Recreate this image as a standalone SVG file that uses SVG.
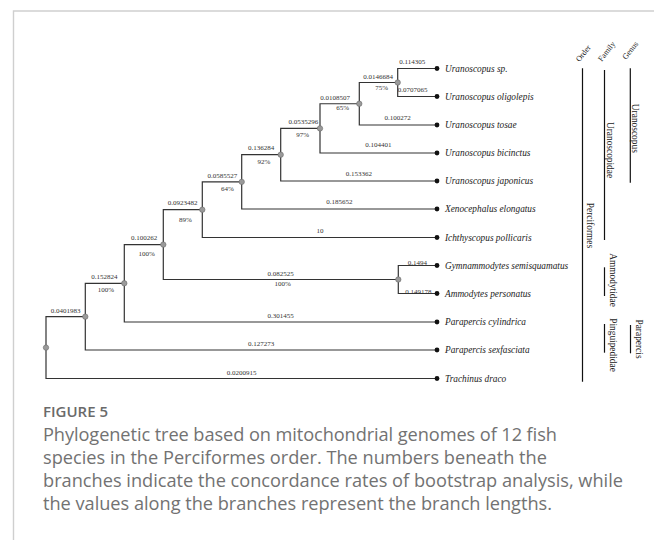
<svg xmlns="http://www.w3.org/2000/svg" width="654" height="540" viewBox="0 0 654 540">
<style>
.frame{fill:none;stroke:#cfcfcf;stroke-width:1.4}
.br{fill:none;stroke:#333;stroke-width:1.2}
.bar{stroke:#111;stroke-width:1.2}
.leaf{fill:#111}
.node{fill:#9a9a9a;stroke:#6a6a6a;stroke-width:0.6}
.bl{font-family:"Liberation Serif",serif;font-size:7px;fill:#333;text-anchor:middle}
.sp{font-family:"Liberation Serif",serif;font-size:9.3px;font-style:italic;fill:#222}
.tax{font-family:"Liberation Serif",serif;font-size:9.4px;fill:#222;text-anchor:middle}
.hd{font-family:"Liberation Serif",serif;font-size:8px;fill:#222;text-anchor:middle}
.cap{font-family:"Open Sans",sans-serif;font-size:18.2px;fill:#727272}
.fig{font-family:"Open Sans",sans-serif;font-size:15px;font-weight:600;fill:#6a6a6a}
</style>
<path class="frame" d="M13.5,540 V11 H654"/>
<g id="connectors">
<path class="br" d="M397.7 82.5 V68.5 H437"/>
<path class="br" d="M397.7 82.5 V96.5 H437"/>
<path class="br" d="M359.3 103.75 V82.5 H397.7"/>
<path class="br" d="M359.3 103.75 V125 H437"/>
<path class="br" d="M320 128.4 V103.75 H359.3"/>
<path class="br" d="M320 128.4 V153 H437"/>
<path class="br" d="M280.7 154.7 V128.4 H320"/>
<path class="br" d="M280.7 154.7 V181 H437"/>
<path class="br" d="M241.7 181.85 V154.7 H280.7"/>
<path class="br" d="M241.7 181.85 V209 H437"/>
<path class="br" d="M202.3 209.7 V181.85 H241.7"/>
<path class="br" d="M202.3 209.7 V237.5 H437"/>
<path class="br" d="M398.3 279.5 V265.5 H437"/>
<path class="br" d="M398.3 279.5 V293.5 H437"/>
<path class="br" d="M163.3 244.6 V209.7 H202.3"/>
<path class="br" d="M163.3 244.6 V279.5 H398.3"/>
<path class="br" d="M124.3 283.3 V244.6 H163.3"/>
<path class="br" d="M124.3 283.3 V322 H437"/>
<path class="br" d="M85.3 316.65 V283.3 H124.3"/>
<path class="br" d="M85.3 316.65 V350 H437"/>
<path class="br" d="M46 347.6 V316.65 H85.3"/>
<path class="br" d="M46 347.6 V378.5 H437"/>
</g>
<g id="branch-labels">
<text class="bl" x="412.3" y="64">0.114305</text>
<text class="bl" x="412.7" y="91.5">0.0707065</text>
<text class="bl" x="378" y="78.5">0.0146684</text>
<text class="bl" x="335" y="99.8">0.0108507</text>
<text class="bl" x="397.7" y="120">0.100272</text>
<text class="bl" x="303.3" y="124">0.0535296</text>
<text class="bl" x="378.3" y="146.8">0.104401</text>
<text class="bl" x="261" y="150">0.136284</text>
<text class="bl" x="358.9" y="175.5">0.153362</text>
<text class="bl" x="222.3" y="177.5">0.0585527</text>
<text class="bl" x="339.4" y="204">0.185652</text>
<text class="bl" x="182.5" y="204.5">0.0923482</text>
<text class="bl" x="320" y="232.5">10</text>
<text class="bl" x="144" y="240">0.100262</text>
<text class="bl" x="280.7" y="275.5">0.082525</text>
<text class="bl" x="417.3" y="265">0.1494</text>
<text class="bl" x="418.3" y="293.5">0.149178</text>
<text class="bl" x="104.3" y="279">0.152824</text>
<text class="bl" x="280.7" y="318">0.301455</text>
<text class="bl" x="65.7" y="312.5">0.0401983</text>
<text class="bl" x="261" y="346">0.127273</text>
<text class="bl" x="241.7" y="374.5">0.0200915</text>
<text class="bl" x="381.7" y="90.3">75%</text>
<text class="bl" x="342.7" y="110.3">65%</text>
<text class="bl" x="302.7" y="137">97%</text>
<text class="bl" x="264" y="164">92%</text>
<text class="bl" x="227.3" y="190.8">64%</text>
<text class="bl" x="185.3" y="221.5">89%</text>
<text class="bl" x="146.7" y="255.5">100%</text>
<text class="bl" x="282.7" y="285.8">100%</text>
<text class="bl" x="106" y="292">100%</text>
</g>
<g id="internal-nodes">
<circle id="n1" class="node" cx="397.7" cy="82.5" r="2.7"/>
<circle id="n2" class="node" cx="359.3" cy="103.75" r="2.7"/>
<circle id="n3" class="node" cx="320" cy="128.4" r="2.7"/>
<circle id="n4" class="node" cx="280.7" cy="154.7" r="2.7"/>
<circle id="n5" class="node" cx="241.7" cy="181.85" r="2.7"/>
<circle id="n6" class="node" cx="202.3" cy="209.7" r="2.7"/>
<circle id="n7" class="node" cx="163.3" cy="244.6" r="2.7"/>
<circle id="n8" class="node" cx="398.3" cy="279.5" r="2.7"/>
<circle id="n9" class="node" cx="124.3" cy="283.3" r="2.7"/>
<circle id="n10" class="node" cx="85.3" cy="316.65" r="2.7"/>
<circle id="root" class="node" cx="46" cy="347.6" r="2.7"/>
</g>
<g id="leaf-uranoscopus-sp"><circle class="leaf" cx="437" cy="68.5" r="2.4"/><text class="sp" x="445" y="71.7">Uranoscopus sp.</text></g>
<g id="leaf-oligolepis"><circle class="leaf" cx="437" cy="96.5" r="2.4"/><text class="sp" x="445" y="99.7">Uranoscopus oligolepis</text></g>
<g id="leaf-tosae"><circle class="leaf" cx="437" cy="125" r="2.4"/><text class="sp" x="445" y="128.2">Uranoscopus tosae</text></g>
<g id="leaf-bicinctus"><circle class="leaf" cx="437" cy="153" r="2.4"/><text class="sp" x="445" y="156.2">Uranoscopus bicinctus</text></g>
<g id="leaf-japonicus"><circle class="leaf" cx="437" cy="181" r="2.4"/><text class="sp" x="445" y="184.2">Uranoscopus japonicus</text></g>
<g id="leaf-xenocephalus"><circle class="leaf" cx="437" cy="209" r="2.4"/><text class="sp" x="445" y="212.2">Xenocephalus elongatus</text></g>
<g id="leaf-ichthyscopus"><circle class="leaf" cx="437" cy="237.5" r="2.4"/><text class="sp" x="445" y="240.7">Ichthyscopus pollicaris</text></g>
<g id="leaf-gymnammodytes"><circle class="leaf" cx="437" cy="265.5" r="2.4"/><text class="sp" x="445" y="268.7">Gymnammodytes semisquamatus</text></g>
<g id="leaf-ammodytes"><circle class="leaf" cx="437" cy="293.5" r="2.4"/><text class="sp" x="445" y="296.7">Ammodytes personatus</text></g>
<g id="leaf-cylindrica"><circle class="leaf" cx="437" cy="322" r="2.4"/><text class="sp" x="445" y="325.2">Parapercis cylindrica</text></g>
<g id="leaf-sexfasciata"><circle class="leaf" cx="437" cy="350" r="2.4"/><text class="sp" x="445" y="353.2">Parapercis sexfasciata</text></g>
<g id="leaf-trachinus"><circle class="leaf" cx="437" cy="378.5" r="2.4"/><text class="sp" x="445" y="381.7">Trachinus draco</text></g>
<g id="headers">
<text class="hd" transform="translate(585.3,55) rotate(-52)">Order</text>
<text class="hd" transform="translate(608.7,53) rotate(-52)">Family</text>
<text class="hd" transform="translate(632.3,52) rotate(-52)">Genus</text>
</g>
<g id="order-perciformes">
<line class="bar" x1="582.5" y1="68.3" x2="582.5" y2="381.7"/>
<text class="tax" transform="translate(586.8,225.5) rotate(90)">Perciformes</text>
</g>
<g id="family-uranoscopidae">
<line class="bar" x1="604.5" y1="70" x2="604.5" y2="240"/>
<text class="tax" transform="translate(607,150) rotate(90)">Uranoscopidae</text>
</g>
<g id="family-ammodytidae">
<line class="bar" x1="604.5" y1="267.3" x2="604.5" y2="296"/>
<text class="tax" transform="translate(609.8,280) rotate(90)">Ammodytidae</text>
</g>
<g id="family-pinguipedidae">
<line class="bar" x1="604.5" y1="324" x2="604.5" y2="352.7"/>
<text class="tax" transform="translate(609.8,345) rotate(90)">Pinguipedidae</text>
</g>
<g id="genus-uranoscopus">
<line class="bar" x1="630.3" y1="68.3" x2="630.3" y2="182.7"/>
<text class="tax" transform="translate(631.5,128.3) rotate(90)">Uranoscopus</text>
</g>
<g id="genus-parapercis">
<line class="bar" x1="630.5" y1="325" x2="630.5" y2="353.3"/>
<text class="tax" transform="translate(635.8,339) rotate(90)">Parapercis</text>
</g>
<g id="caption">
<text class="fig" x="43" y="416.7">FIGURE 5</text>
<text class="cap" x="43" y="440.5" textLength="514" lengthAdjust="spacing">Phylogenetic tree based on mitochondrial genomes of 12 fish</text>
<text class="cap" x="43" y="463.8">species in the Perciformes order. The numbers beneath the</text>
<text class="cap" x="43" y="487">branches indicate the concordance rates of bootstrap analysis, while</text>
<text class="cap" x="43" y="510.3" textLength="509" lengthAdjust="spacing">the values along the branches represent the branch lengths.</text>
</g>
</svg>
